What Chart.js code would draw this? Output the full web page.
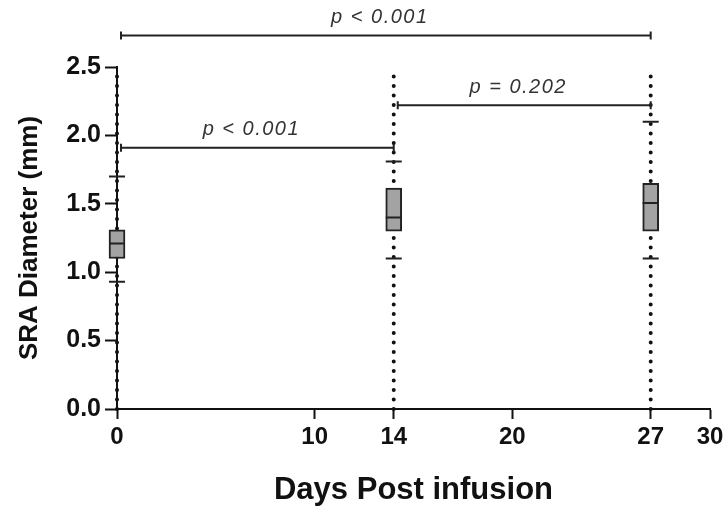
<!DOCTYPE html>
<html>
<head>
<meta charset="utf-8">
<script src="https://cdn.jsdelivr.net/npm/chart.js@4"></script>
<style>
  html, body { margin: 0; padding: 0; background: #fff; }
  #wrap { width: 728px; height: 529px; }
</style>
</head>
<body>
<div id="wrap"><canvas id="sraChart" width="728" height="529"></canvas></div>
<script>
const days = [0, 14, 27];
const q1 = [1.10, 1.30, 1.30];
const median = [1.21, 1.40, 1.505];
const q3 = [1.31, 1.615, 1.65];
const whiskerLow = [0.93, 1.10, 1.10];
const whiskerHigh = [1.70, 1.81, 2.10];
const xTicks = [0, 10, 14, 20, 27, 30];

const bracketFrom = [0, 0, 14];
const bracketTo = [27, 14, 27];
const bracketY = [2.73, 1.91, 2.22];
const bracketLabels = ["p < 0.001", "p < 0.001", "p = 0.202"];

const FONT = "'Liberation Sans', Arial, sans-serif";

// whiskers, caps and medians
const boxExtras = {
  id: "boxExtras",
  afterDatasetsDraw(chart) {
    const ctx = chart.ctx;
    const x = chart.scales.x;
    const y = chart.scales.y;
    ctx.save();
    ctx.strokeStyle = "#222";
    days.forEach((d, i) => {
      const px = x.getPixelForValue(d);
      ctx.lineWidth = 2;
      ctx.beginPath();
      ctx.moveTo(px - 8, y.getPixelForValue(median[i]));
      ctx.lineTo(px + 8, y.getPixelForValue(median[i]));
      [whiskerLow[i], whiskerHigh[i]].forEach(v => {
        ctx.moveTo(px - 8, y.getPixelForValue(v));
        ctx.lineTo(px + 8, y.getPixelForValue(v));
      });
      ctx.stroke();
    });
    ctx.restore();
  }
};

// significance brackets
const brackets = {
  id: "brackets",
  afterDraw(chart) {
    const ctx = chart.ctx;
    const x = chart.scales.x;
    const y = chart.scales.y;
    ctx.save();
    ctx.strokeStyle = "#222";
    ctx.fillStyle = "#333";
    ctx.lineWidth = 2;
    ctx.font = "italic 20px " + FONT;
    ctx.letterSpacing = "1.5px";
    ctx.textAlign = "center";
    ctx.textBaseline = "bottom";
    bracketLabels.forEach((lab, i) => {
      const x1 = x.getPixelForValue(bracketFrom[i]) + 4;
      const x2 = x.getPixelForValue(bracketTo[i]);
      const py = y.getPixelForValue(bracketY[i]);
      ctx.beginPath();
      ctx.moveTo(x1, py);
      ctx.lineTo(x2, py);
      ctx.moveTo(x1, py - 4);
      ctx.lineTo(x1, py + 4);
      ctx.moveTo(x2, py - 4);
      ctx.lineTo(x2, py + 4);
      ctx.stroke();
      ctx.fillText(lab, (x1 + x2) / 2 - 6, py - 8);
    });
    ctx.restore();
  }
};

const dotted = days.map(d => ({
  type: "line",
  data: [{ x: d, y: 0 }, { x: d, y: 2.5 }],
  borderColor: "#111",
  borderWidth: 4,
  borderDash: [0, 9.5],
  borderCapStyle: "round",
  pointRadius: 0,
  clip: false,
  order: 2
}));

new Chart(document.getElementById("sraChart"), {
  data: {
    datasets: [
      {
        type: "bar",
        data: days.map((d, i) => ({ x: d, y: [q1[i], q3[i]] })),
        backgroundColor: "#a3a3a3",
        borderColor: "#222",
        borderWidth: 2,
        borderSkipped: false,
        barThickness: 16,
        clip: false,
        order: 0
      },
      ...dotted
    ]
  },
  options: {
    responsive: false,
    animation: false,
    layout: { padding: { top: 67, right: 18, left: 0, bottom: 0 } },
    plugins: { legend: { display: false }, tooltip: { enabled: false } },
    scales: {
      x: {
        type: "linear",
        min: 0,
        max: 30,
        offset: false,
        afterBuildTicks: s => { s.ticks = xTicks.map(v => ({ value: v })); },
        afterFit: s => { s.height = 120; },
        grid: { offset: false, drawOnChartArea: false, tickLength: 10, tickWidth: 2, tickColor: "#111" },
        border: { color: "#111", width: 2 },
        ticks: { color: "#111", font: { family: FONT, size: 24, weight: "bold" }, padding: 4, autoSkip: false, maxRotation: 0 },
        title: { display: true, text: "Days Post infusion", color: "#111", font: { family: FONT, size: 31, weight: "bold" }, padding: { top: 0, bottom: 20 } }
      },
      y: {
        min: 0,
        max: 2.5,
        afterFit: s => { s.width = 117; },
        grid: { drawOnChartArea: false, tickLength: 12, tickWidth: 2, tickColor: "#111" },
        border: { color: "#111", width: 2 },
        ticks: { stepSize: 0.5, color: "#111", font: { family: FONT, size: 25, weight: "bold" }, padding: 4, callback: v => v.toFixed(1) },
        title: { display: true, text: "SRA Diameter (mm)", color: "#111", font: { family: FONT, size: 26, weight: "bold" }, padding: { top: 14, bottom: 0 } }
      }
    }
  },
  plugins: [boxExtras, brackets]
});
</script>
</body>
</html>
